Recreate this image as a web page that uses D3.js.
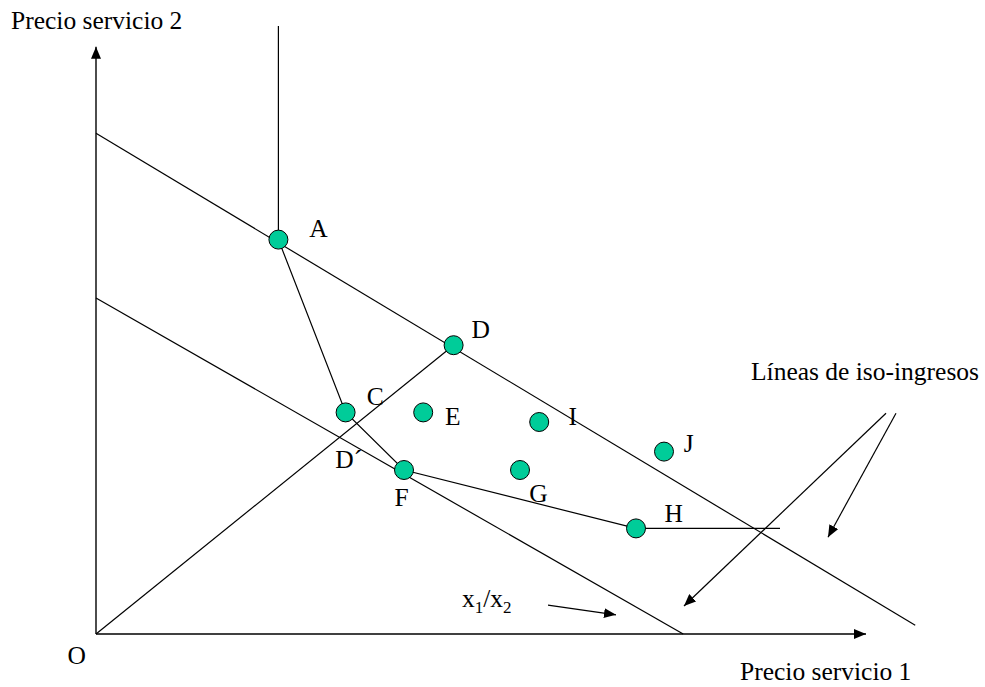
<!DOCTYPE html>
<html>
<head>
<meta charset="utf-8">
<script src="https://cdn.jsdelivr.net/npm/d3@7"></script>
<style>
  html, body { margin: 0; padding: 0; background: #fff; }
  svg { display: block; }
  text { font-family: "Liberation Serif", "Times New Roman", serif; fill: #000; }
</style>
</head>
<body>
<svg id="chart" width="985" height="687"></svg>
<script>
// ---------- DATA (price units; origin O = (0,0)) ----------
const pointNames = ["A", "D", "C", "E", "I", "J", "G", "F", "H"];
const pointX     = [22.8, 44.7, 31.2, 40.9, 55.4, 71.0, 53.0, 38.5, 67.5];
const pointY     = [49.3, 36.1, 27.7, 27.7, 26.5, 22.8, 20.5, 20.5, 13.2];

// point labels (text, x, y of label baseline-centre)
const labelText = ["A", "D", "C", "E", "I", "J", "D´", "G", "F", "H"];
const labelX    = [27.8, 48.1, 34.9, 44.6, 59.6, 74.1, 31.6, 55.3, 38.2, 72.2];
const labelY    = [49.6, 37.0, 28.6, 26.1, 26.1, 22.7, 20.7, 16.5, 16.0, 14.0];

// iso-revenue lines (start / end)
const isoHighX = [0, 102.4];
const isoHighY = [62.6, 1.1];
const isoLowX  = [0, 73.4];
const isoLowY  = [42.0, 0];

// frontier: vertical above A, A -> C -> F -> H -> horizontal
const frontierUpX = [22.8, 22.8];
const frontierUpY = [76.0, 49.3];
const frontierX = [22.8, 31.2, 38.5, 67.5, 85.5];
const frontierY = [49.3, 27.7, 20.5, 13.2, 13.2];

// ray from origin through D (x1/x2)
const rayX = [0, 44.7];
const rayY = [0, 36.1];

// axes extents
const axisXMax = 96.25;
const axisYMax = 73.4;

// annotation arrows [x0, y0, x1, y1]
const arrowRatio = [56.5, 3.6, 65.0, 2.4];
const arrowIso1  = [98.75, 27.6, 73.5, 3.5];
const arrowIso2  = [100.0, 27.6, 91.5, 12.1];

// texts
const yTitle = "Precio servicio 2";
const xTitle = "Precio servicio 1";
const isoTitle = "Líneas de iso-ingresos";
const originLabel = "O";

// ---------- SCALES ----------
const x = d3.scaleLinear().domain([0, 100]).range([96, 896]);
const y = d3.scaleLinear().domain([0, 75]).range([634, 34]);

const FS = 25.5;
const svg = d3.select("#chart");

const defs = svg.append("defs");
defs.append("marker")
  .attr("id", "arrow")
  .attr("viewBox", "0 0 12 10")
  .attr("refX", 12).attr("refY", 5)
  .attr("markerWidth", 12).attr("markerHeight", 10)
  .attr("markerUnits", "userSpaceOnUse")
  .attr("orient", "auto")
  .append("path").attr("d", "M0,0 L12,5 L0,10 Z").attr("fill", "#000");

const line = d3.line().x(d => x(d[0])).y(d => y(d[1]));
const zip = (xs, ys) => xs.map((v, i) => [v, ys[i]]);

const g = svg.append("g");

// axes
g.append("path").attr("d", line([[0, 0], [axisXMax, 0]]))
  .attr("stroke", "#000").attr("stroke-width", 1.4).attr("fill", "none")
  .attr("marker-end", "url(#arrow)");
g.append("path").attr("d", line([[0, 0], [0, axisYMax]]))
  .attr("stroke", "#000").attr("stroke-width", 1.4).attr("fill", "none")
  .attr("marker-end", "url(#arrow)");

// lines
const lineStyle = sel => sel.attr("stroke", "#000").attr("stroke-width", 1.2).attr("fill", "none");
g.append("path").attr("d", line(zip(isoHighX, isoHighY))).call(lineStyle);
g.append("path").attr("d", line(zip(isoLowX, isoLowY))).call(lineStyle);
g.append("path").attr("d", line(zip(rayX, rayY))).call(lineStyle);
g.append("path").attr("d", line(zip(frontierUpX, frontierUpY))).call(lineStyle);
g.append("path").attr("d", line(zip(frontierX, frontierY))).call(lineStyle);

// annotation arrows
[arrowRatio, arrowIso1, arrowIso2].forEach(a => {
  g.append("path").attr("d", line([[a[0], a[1]], [a[2], a[3]]]))
    .attr("stroke", "#000").attr("stroke-width", 1.2).attr("fill", "none")
    .attr("marker-end", "url(#arrow)");
});

// points
g.selectAll("circle.pt").data(pointNames.map((n, i) => ({n, x: pointX[i], y: pointY[i]})))
  .join("circle").attr("class", "pt")
  .attr("cx", d => x(d.x)).attr("cy", d => y(d.y)).attr("r", 9.5)
  .attr("fill", "#00CC99").attr("stroke", "#000").attr("stroke-width", 1);

// point labels
g.selectAll("text.lbl").data(labelText.map((t, i) => ({t, x: labelX[i], y: labelY[i]})))
  .join("text").attr("class", "lbl")
  .attr("x", d => x(d.x)).attr("y", d => y(d.y))
  .attr("text-anchor", "middle").attr("font-size", FS)
  .text(d => d.t);

// origin label
g.append("text").attr("x", x(-2.4)).attr("y", y(-3.75))
  .attr("text-anchor", "middle").attr("font-size", FS).text(originLabel);

// axis titles
svg.append("text").attr("x", 11).attr("y", 29).attr("font-size", FS).text(yTitle);
svg.append("text").attr("x", 740).attr("y", 680).attr("font-size", FS).text(xTitle);
svg.append("text").attr("x", 751).attr("y", 380).attr("font-size", FS).text(isoTitle);

// x1/x2 label
const r = svg.append("text").attr("x", 462).attr("y", 607).attr("font-size", FS);
r.append("tspan").text("x");
r.append("tspan").attr("font-size", 17).attr("dy", 6).text("1");
r.append("tspan").attr("dy", -6).text("/x");
r.append("tspan").attr("font-size", 17).attr("dy", 6).text("2");
</script>
</body>
</html>
